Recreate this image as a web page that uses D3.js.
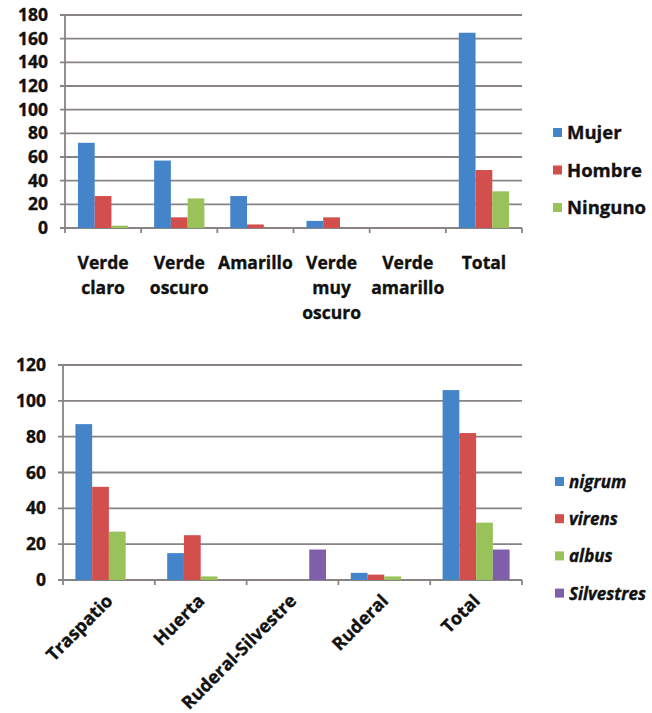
<!DOCTYPE html>
<html>
<head>
<meta charset="utf-8">
<script src="https://cdn.jsdelivr.net/npm/d3@7"></script>
<style>
  html, body { margin: 0; padding: 0; background: #ffffff; }
  svg text { font-family: "Open Sans", "Liberation Sans", sans-serif; font-weight: bold; fill: #111; stroke: #111; stroke-width: 0.35px; }
</style>
</head>
<body>
<svg id="chart" width="652" height="713"></svg>
<script>
// ---- Chart 1 data ----
const colorCats = ["Verde claro", "Verde oscuro", "Amarillo", "Verde muy oscuro", "Verde amarillo", "Total"];
const colorCatLines = [["Verde", "claro"], ["Verde", "oscuro"], ["Amarillo"], ["Verde", "muy", "oscuro"], ["Verde", "amarillo"], ["Total"]];
const genderSeries = ["Mujer", "Hombre", "Ninguno"];
const mujer   = [72, 57, 27, 6, 0, 165];
const hombre  = [27, 9, 3, 9, 0, 49];
const ninguno = [2, 25, 0, 0, 0, 31];
const yTicks1 = [0, 20, 40, 60, 80, 100, 120, 140, 160, 180];

// ---- Chart 2 data ----
const habitatCats = ["Traspatio", "Huerta", "Ruderal-Silvestre", "Ruderal", "Total"];
const varietySeries = ["nigrum", "virens", "albus", "Silvestres"];
const nigrum     = [87, 15, 0, 4, 106];
const virens     = [52, 25, 0, 3, 82];
const albus      = [27, 2, 0, 2, 32];
const silvestres = [0, 0, 17, 0, 17];
const yTicks2 = [0, 20, 40, 60, 80, 100, 120];

const colors3 = ["#4485C9", "#D24F4D", "#99C35A"];
const colors4 = ["#4485C9", "#D24F4D", "#99C35A", "#7F5FAA"];
const gridColor = "#8a8383";

const svg = d3.select("#chart");
svg.append("rect").attr("width", 652).attr("height", 713).attr("fill", "#fff");

function drawChart(cfg) {
  const g = svg.append("g");
  const x = d3.scaleBand().domain(cfg.cats).range([cfg.left, cfg.right])
    .paddingInner(cfg.pad).paddingOuter(cfg.pad / 2);
  const xs = d3.scaleBand().domain(cfg.series).range([0, x.bandwidth()]);
  const y = d3.scaleLinear().domain([0, cfg.max]).range([cfg.bottom, cfg.top]);

  // gridlines (including left tick stubs)
  g.selectAll("line.grid").data(cfg.ticks).join("line")
    .attr("x1", cfg.left - 5).attr("x2", cfg.right)
    .attr("y1", d => y(d)).attr("y2", d => y(d))
    .attr("stroke", gridColor).attr("stroke-width", 1.8);
  // y axis line
  g.append("line").attr("x1", cfg.left).attr("x2", cfg.left)
    .attr("y1", y(cfg.max)).attr("y2", y(0))
    .attr("stroke", gridColor).attr("stroke-width", 1.8);
  // x tick marks at category boundaries
  const bounds = cfg.cats.map(c => x(c) - x.step() * x.paddingInner() / 2);
  bounds.push(cfg.right);
  g.selectAll("line.xt").data(bounds).join("line")
    .attr("x1", d => d).attr("x2", d => d)
    .attr("y1", y(0)).attr("y2", y(0) + 5)
    .attr("stroke", gridColor).attr("stroke-width", 1.8);
  // y tick labels
  g.selectAll("text.yt").data(cfg.ticks).join("text")
    .attr("x", cfg.left - 17).attr("y", d => y(d) + 6)
    .attr("text-anchor", "end").attr("font-size", 17.5)
    .text(d => d);

  // bars
  cfg.series.forEach((s, si) => {
    g.selectAll("rect.s" + si).data(cfg.values[si]).join("rect")
      .attr("x", (d, i) => x(cfg.cats[i]) + xs(s))
      .attr("width", xs.bandwidth())
      .attr("y", d => y(d))
      .attr("height", d => y(0) - y(d))
      .attr("fill", cfg.colors[si]);
  });

  // legend
  cfg.series.forEach((s, si) => {
    const ly = cfg.legendY + si * cfg.legendStep;
    g.append("rect").attr("x", cfg.legendX).attr("y", ly - 5)
      .attr("width", 9).attr("height", 9).attr("fill", cfg.colors[si]);
    g.append("text").attr("x", cfg.legendX + 14).attr("y", ly + 6)
      .attr("font-size", cfg.legendFont)
      .attr("font-style", cfg.italicLegend ? "italic" : "normal")
      .text(s);
  });
  return { g, x, y };
}

// Chart 1
const c1 = drawChart({
  cats: colorCats, series: genderSeries, values: [mujer, hombre, ninguno],
  colors: colors3, left: 65, right: 522, top: 15, bottom: 228, max: 180,
  ticks: yTicks1, pad: 0.34, legendX: 553, legendY: 133, legendStep: 37.5,
  italicLegend: false, legendFont: 18.5
});
colorCats.forEach((c, i) => {
  const t = c1.g.append("text").attr("text-anchor", "middle").attr("font-size", 17.5)
    .attr("x", c1.x(c) + c1.x.bandwidth() / 2);
  colorCatLines[i].forEach((ln, li) => {
    t.append("tspan").attr("x", c1.x(c) + c1.x.bandwidth() / 2)
      .attr("y", 269 + li * 25).text(ln);
  });
});

// Chart 2
const c2 = drawChart({
  cats: habitatCats, series: varietySeries, values: [nigrum, virens, albus, silvestres],
  colors: colors4, left: 63, right: 522, top: 365, bottom: 580, max: 120,
  ticks: yTicks2, pad: 0.27, legendX: 555, legendY: 482, legendStep: 37.2,
  italicLegend: true, legendFont: 17
});
habitatCats.forEach(c => {
  const cx = c2.x(c) + c2.x.bandwidth() / 2;
  c2.g.append("text").attr("text-anchor", "end").attr("font-size", 18)
    .attr("transform", `translate(${cx + 5},${602}) rotate(-45)`)
    .text(c);
});
</script>
</body>
</html>
